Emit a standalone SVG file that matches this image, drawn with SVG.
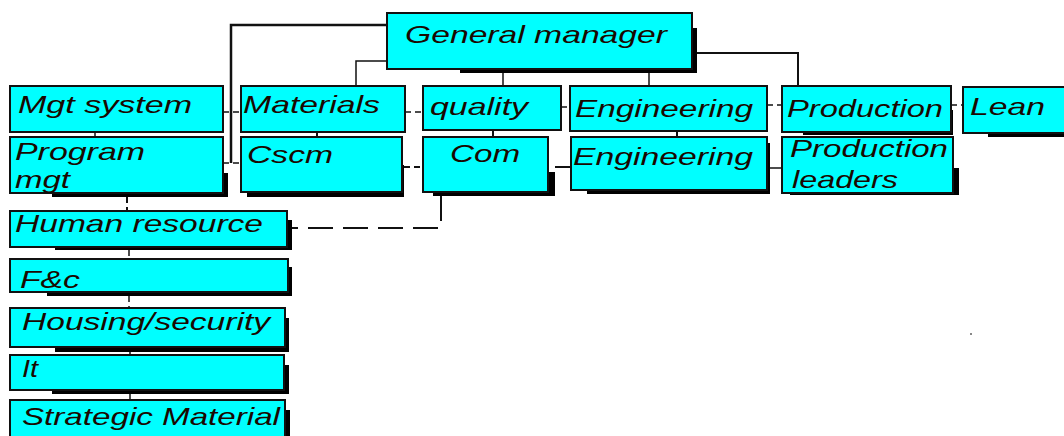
<svg xmlns="http://www.w3.org/2000/svg" width="1064" height="436" viewBox="0 0 1064 436">
<style>
.box{fill:#00ffff;stroke:#111;stroke-width:2}
.sh{fill:#000}
.t{font-family:"Liberation Sans",Arial,sans-serif;font-style:italic;font-size:24px;fill:#1a0800}
.c{fill:none;stroke:#111;stroke-width:1.5}
.d{fill:none;stroke:#111;stroke-width:1.5;stroke-dasharray:6 4}
</style>
<rect width="1064" height="436" fill="#fff"/>
<g id="connectors">
<polyline class="c" points="387,25 231,25 231,163" style="stroke-width:2.5"/>
<line class="d" x1="223" y1="163" x2="241" y2="163"/>
<line class="d" x1="223" y1="112" x2="241" y2="112"/>
<polyline class="c" points="387,61 356,61 356,86"/>
<line class="c" x1="503" y1="69" x2="503" y2="86"/>
<line class="c" x1="649" y1="69" x2="649" y2="86"/>
<polyline class="c" points="692,53 798,53 798,86" style="stroke-width:2"/>
<line class="d" x1="405" y1="112" x2="423" y2="112"/>
<line class="d" x1="561" y1="107" x2="570" y2="107"/>
<line class="d" x1="767" y1="105" x2="782" y2="105"/>
<line class="d" x1="951" y1="105" x2="963" y2="105"/>
<line class="c" x1="95" y1="132" x2="95" y2="137"/>
<line class="d" x1="127" y1="197" x2="127" y2="211" style="stroke-width:2"/>
<line class="d" x1="129" y1="250" x2="129" y2="259"/>
<line class="d" x1="129" y1="296" x2="129" y2="308"/>
<line class="c" x1="130" y1="347" x2="130" y2="355"/>
<line class="c" x1="130" y1="394" x2="130" y2="400"/>
<line class="c" x1="317" y1="132" x2="317" y2="137" style="stroke-width:2"/>
<line class="c" x1="493" y1="130" x2="493" y2="137" style="stroke-width:2"/>
<line class="c" x1="677" y1="131" x2="677" y2="137" style="stroke-width:2"/>
<line class="d" x1="404" y1="167" x2="423" y2="167" style="stroke-width:2"/>
<line class="c" x1="555" y1="167" x2="571" y2="167" style="stroke-width:2"/>
<line class="c" x1="770" y1="168" x2="782" y2="168"/>
<polyline points="441,196 441,228 292,228" style="fill:none;stroke:#111;stroke-width:2;stroke-dasharray:25 10"/>
</g>
<g id="gm"><rect class="sh" x="460" y="28" width="237" height="45"/><rect class="box" x="387" y="13" width="305" height="56"/><text class="t" x="405" y="43" textLength="262" lengthAdjust="spacingAndGlyphs">General manager</text></g>
<g id="mgt-system"><rect class="box" x="10" y="86" width="213" height="46"/><text class="t" x="18" y="113" textLength="174" lengthAdjust="spacingAndGlyphs">Mgt system</text></g>
<g id="program-mgt"><rect class="sh" x="52" y="173" width="176" height="24"/><rect class="box" x="10" y="137" width="213" height="56"/><text class="t" x="15" y="160" textLength="130" lengthAdjust="spacingAndGlyphs">Program</text><text class="t" x="15" y="188" textLength="55" lengthAdjust="spacingAndGlyphs">mgt</text></g>
<g id="human-resource"><rect class="sh" x="55" y="220" width="237" height="30"/><rect class="box" x="10" y="211" width="277" height="36"/><text class="t" x="15" y="232" textLength="248" lengthAdjust="spacingAndGlyphs">Human resource</text></g>
<g id="fc"><rect class="sh" x="47" y="267" width="245" height="29"/><rect class="box" x="10" y="259" width="278" height="33"/><text class="t" x="20" y="288" textLength="60" lengthAdjust="spacingAndGlyphs">F&amp;c</text></g>
<g id="housing"><rect class="sh" x="55" y="318" width="234" height="34"/><rect class="box" x="10" y="308" width="275" height="39"/><text class="t" x="22" y="330" textLength="248" lengthAdjust="spacingAndGlyphs">Housing/security</text></g>
<g id="it"><rect class="sh" x="52" y="365" width="237" height="29"/><rect class="box" x="10" y="355" width="274" height="35"/><text class="t" x="22" y="377" textLength="16" lengthAdjust="spacingAndGlyphs">It</text></g>
<g id="strategic"><rect class="sh" x="52" y="410" width="238" height="30"/><rect class="box" x="10" y="400" width="275" height="40"/><text class="t" x="22" y="425" textLength="258" lengthAdjust="spacingAndGlyphs">Strategic Material</text></g>
<g id="materials"><rect class="box" x="241" y="86" width="164" height="46"/><text class="t" x="243" y="113" textLength="137" lengthAdjust="spacingAndGlyphs">Materials</text></g>
<g id="cscm"><rect class="sh" x="247" y="165" width="157" height="32"/><rect class="box" x="241" y="137" width="161" height="55"/><text class="t" x="247" y="163" textLength="86" lengthAdjust="spacingAndGlyphs">Cscm</text></g>
<g id="quality"><rect class="box" x="423" y="86" width="138" height="44"/><text class="t" x="430" y="115" textLength="98" lengthAdjust="spacingAndGlyphs">quality</text></g>
<g id="com"><rect class="sh" x="433" y="172" width="122" height="24"/><rect class="box" x="423" y="137" width="125" height="55"/><text class="t" x="450" y="162" textLength="70" lengthAdjust="spacingAndGlyphs">Com</text></g>
<g id="engineering"><rect class="box" x="570" y="86" width="197" height="45"/><text class="t" x="575" y="117" textLength="178" lengthAdjust="spacingAndGlyphs">Engineering</text></g>
<g id="engineering2"><rect class="sh" x="587" y="143" width="183" height="51"/><rect class="box" x="571" y="137" width="196" height="53"/><text class="t" x="573" y="165" textLength="180" lengthAdjust="spacingAndGlyphs">Engineering</text></g>
<g id="production"><rect class="sh" x="803" y="110" width="150" height="25"/><rect class="box" x="782" y="86" width="169" height="46"/><text class="t" x="787" y="117" textLength="156" lengthAdjust="spacingAndGlyphs">Production</text></g>
<g id="production-leaders"><rect class="sh" x="790" y="168" width="169" height="27"/><rect class="box" x="782" y="137" width="171" height="56"/><text class="t" x="790" y="157" textLength="158" lengthAdjust="spacingAndGlyphs">Production</text><text class="t" x="792" y="188" textLength="106" lengthAdjust="spacingAndGlyphs">leaders</text></g>
<g id="lean"><rect class="sh" x="988" y="110" width="80" height="27"/><rect class="box" x="963" y="87" width="104" height="46"/><text class="t" x="970" y="115" textLength="75" lengthAdjust="spacingAndGlyphs">Lean</text></g>
<rect x="970" y="333" width="2" height="2" fill="#888"/>
</svg>
